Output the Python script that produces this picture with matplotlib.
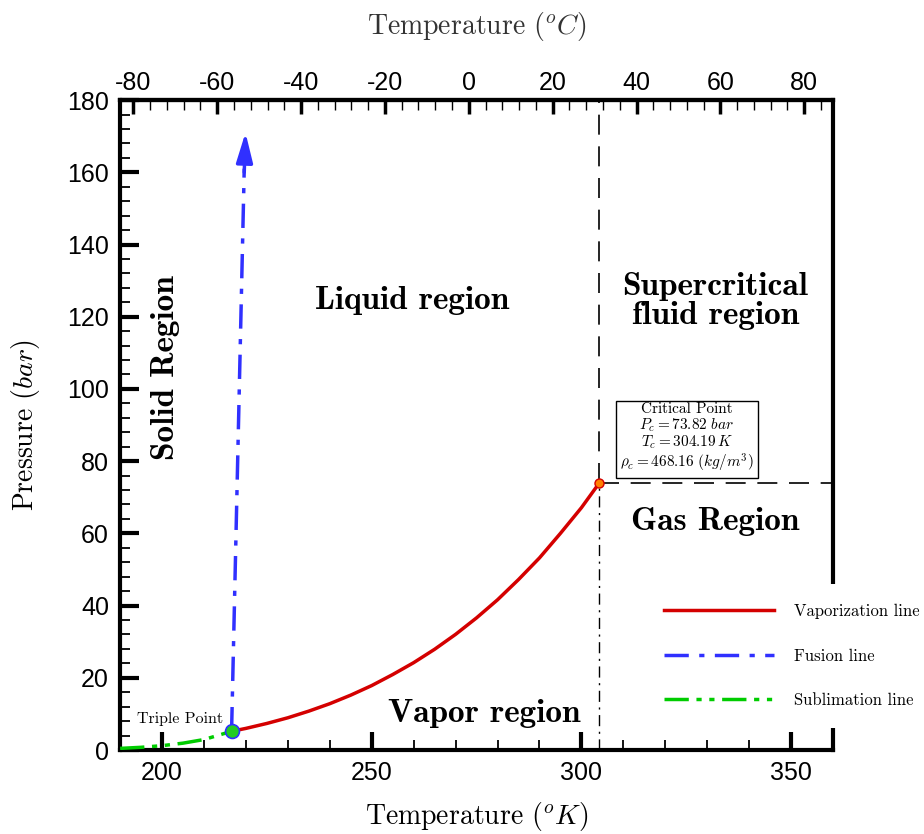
import matplotlib
matplotlib.use("Agg")
import matplotlib.pyplot as plt
from matplotlib.ticker import MultipleLocator
import matplotlib.lines as mlines

plt.rcParams['font.family'] = 'Liberation Sans'
plt.rcParams['mathtext.fontset'] = 'cm'
plt.rcParams['axes.unicode_minus'] = False

# CO2 phase diagram data (T in K, P in bar)
T_triple, P_triple = 216.58, 5.18
T_crit, P_crit = 304.19, 73.82

vap_T = [216.58, 220, 225, 230, 235, 240, 245, 250, 255, 260, 265, 270, 275, 280, 285,
         290, 295, 300, 304.19]
vap_P = [5.18, 5.99, 7.36, 8.93, 10.77, 12.83, 15.2, 17.85, 20.9, 24.19, 27.9, 32.03,
         36.6, 41.6, 47.2, 53.2, 60.0, 67.1, 73.82]

sub_T = [190, 195, 200, 205, 210, 216.58]
sub_P = [0.45, 0.75, 1.2, 1.9, 2.9, 5.18]

fus_T = [216.58, 219.6]
fus_P = [5.18, 161.0]
fus_tip = (219.9, 171.0)

xmin, xmax = 190, 360
ymin, ymax = 0, 180

serif = 'cmr10'
bold = 'cmb10'

fig = plt.figure(figsize=(9.24, 8.34), dpi=100)
ax = fig.add_axes([0.13, 0.1007, 0.7715, 0.7793])

red = '#d40000'
blue = '#3030ff'
green = '#00cc00'
fus_dash = (7, 3, 1.5, 3)
sub_dash = (7, 2.2, 1.5, 2.2, 1.5, 2.2)

ax.plot(vap_T, vap_P, color=red, lw=2.5, zorder=4)
ax.plot(fus_T, fus_P, color=blue, lw=2.5, dashes=fus_dash, zorder=4)
ax.annotate('', xy=fus_tip, xytext=(fus_T[-1], fus_P[-1] - 1),
            arrowprops=dict(arrowstyle='-|>,head_length=1.8,head_width=0.5',
                            color=blue, lw=2.5, shrinkA=0, shrinkB=0), zorder=4)
ax.plot(sub_T, sub_P, color=green, lw=2.5, dashes=sub_dash, zorder=4)

# critical lines
ax.plot([T_crit, T_crit], [P_crit, ymax], color='black', lw=1.2, dashes=(12, 7), zorder=3)
ax.plot([T_crit, T_crit], [ymin, P_crit], color='black', lw=1.0, dashes=(8, 4, 1.5, 4), zorder=3)
ax.plot([T_crit, xmax], [P_crit, P_crit], color='black', lw=1.2, dashes=(12, 7), zorder=3)

ax.plot([T_triple], [P_triple], 'o', ms=10, mfc='#22cc22', mec=blue, mew=1.2, zorder=5)
ax.plot([T_crit], [P_crit], 'o', ms=6.5, mfc='#ff8000', mec='#d40000', mew=1, zorder=5)

# annotations
ax.text(204.4, 8.6, 'Triple Point', fontsize=11.5, family=serif, ha='center', va='center')
ax.text(325.2, 86.4, 'Critical Point\n$P_c = 73.82\\ bar$\n$T_c = 304.19\\,K$\n'
        '$\\rho_c = 468.16\\ (kg/m^3)$', fontsize=11, family=serif, ha='center', va='center',
        linespacing=1.0,
        bbox=dict(boxstyle='square,pad=0.3', fc='white', ec='black', lw=1))

ax.text(259.6, 124.6, 'Liquid region', fontsize=24, family=bold, ha='center', va='center')
ax.text(331.9, 124.3, 'Supercritical\nfluid region', fontsize=24, family=bold,
        ha='center', va='center', linespacing=1.0)
ax.text(200.8, 105.8, 'Solid Region', fontsize=24, family=bold, ha='center', va='center',
        rotation=90)
ax.text(331.9, 63.4, 'Gas Region', fontsize=24, family=bold, ha='center', va='center')
ax.text(276.8, 10.2, 'Vapor region', fontsize=24, family=bold, ha='center', va='center')

ax.set_xlim(xmin, xmax)
ax.set_ylim(ymin, ymax)

ax.xaxis.set_major_locator(MultipleLocator(50))
ax.xaxis.set_minor_locator(MultipleLocator(10))
ax.yaxis.set_major_locator(MultipleLocator(20))
ax.yaxis.set_minor_locator(MultipleLocator(4))
ax.tick_params(which='major', direction='in', length=13, width=3, labelsize=18, pad=8)
ax.tick_params(which='minor', direction='in', length=7, width=1.3)
ax.tick_params(axis='y', which='major', length=14)
for s in ax.spines.values():
    s.set_linewidth(3)

ax.set_xlabel('Temperature ($^oK$)', fontsize=20, family=serif, labelpad=11)
ax.set_ylabel('Pressure ($bar$)', fontsize=20, family=serif, labelpad=18)

sec = ax.secondary_xaxis('top', functions=(lambda k: k - 273.15, lambda c: c + 273.15))
sec.xaxis.set_major_locator(MultipleLocator(20))
sec.xaxis.set_minor_locator(MultipleLocator(4))
sec.tick_params(which='major', direction='in', length=10, width=2.5, labelsize=18, pad=4)
sec.tick_params(which='minor', direction='in', length=7, width=1)
sec.spines['top'].set_linewidth(3)
sec.set_xlabel('Temperature ($^oC$)', fontsize=20, family=serif, labelpad=26, color='#333333')

handles = [mlines.Line2D([], [], color=red, lw=2.5),
           mlines.Line2D([], [], color=blue, lw=2.5, dashes=fus_dash),
           mlines.Line2D([], [], color=green, lw=2.5, dashes=sub_dash)]
leg = ax.legend(handles, ['Vaporization line', 'Fusion line', 'Sublimation line'],
                loc='center left', bbox_to_anchor=(0.688, 0.2135), bbox_transform=fig.transFigure,
                prop=dict(family=serif, size=12), handlelength=6.6, labelspacing=1.75,
                handletextpad=1.2, frameon=True, framealpha=1, fancybox=False,
                borderpad=1.2)
leg.get_frame().set_edgecolor('none')
leg.set_zorder(10)

fig.savefig('out.png', dpi=100)
